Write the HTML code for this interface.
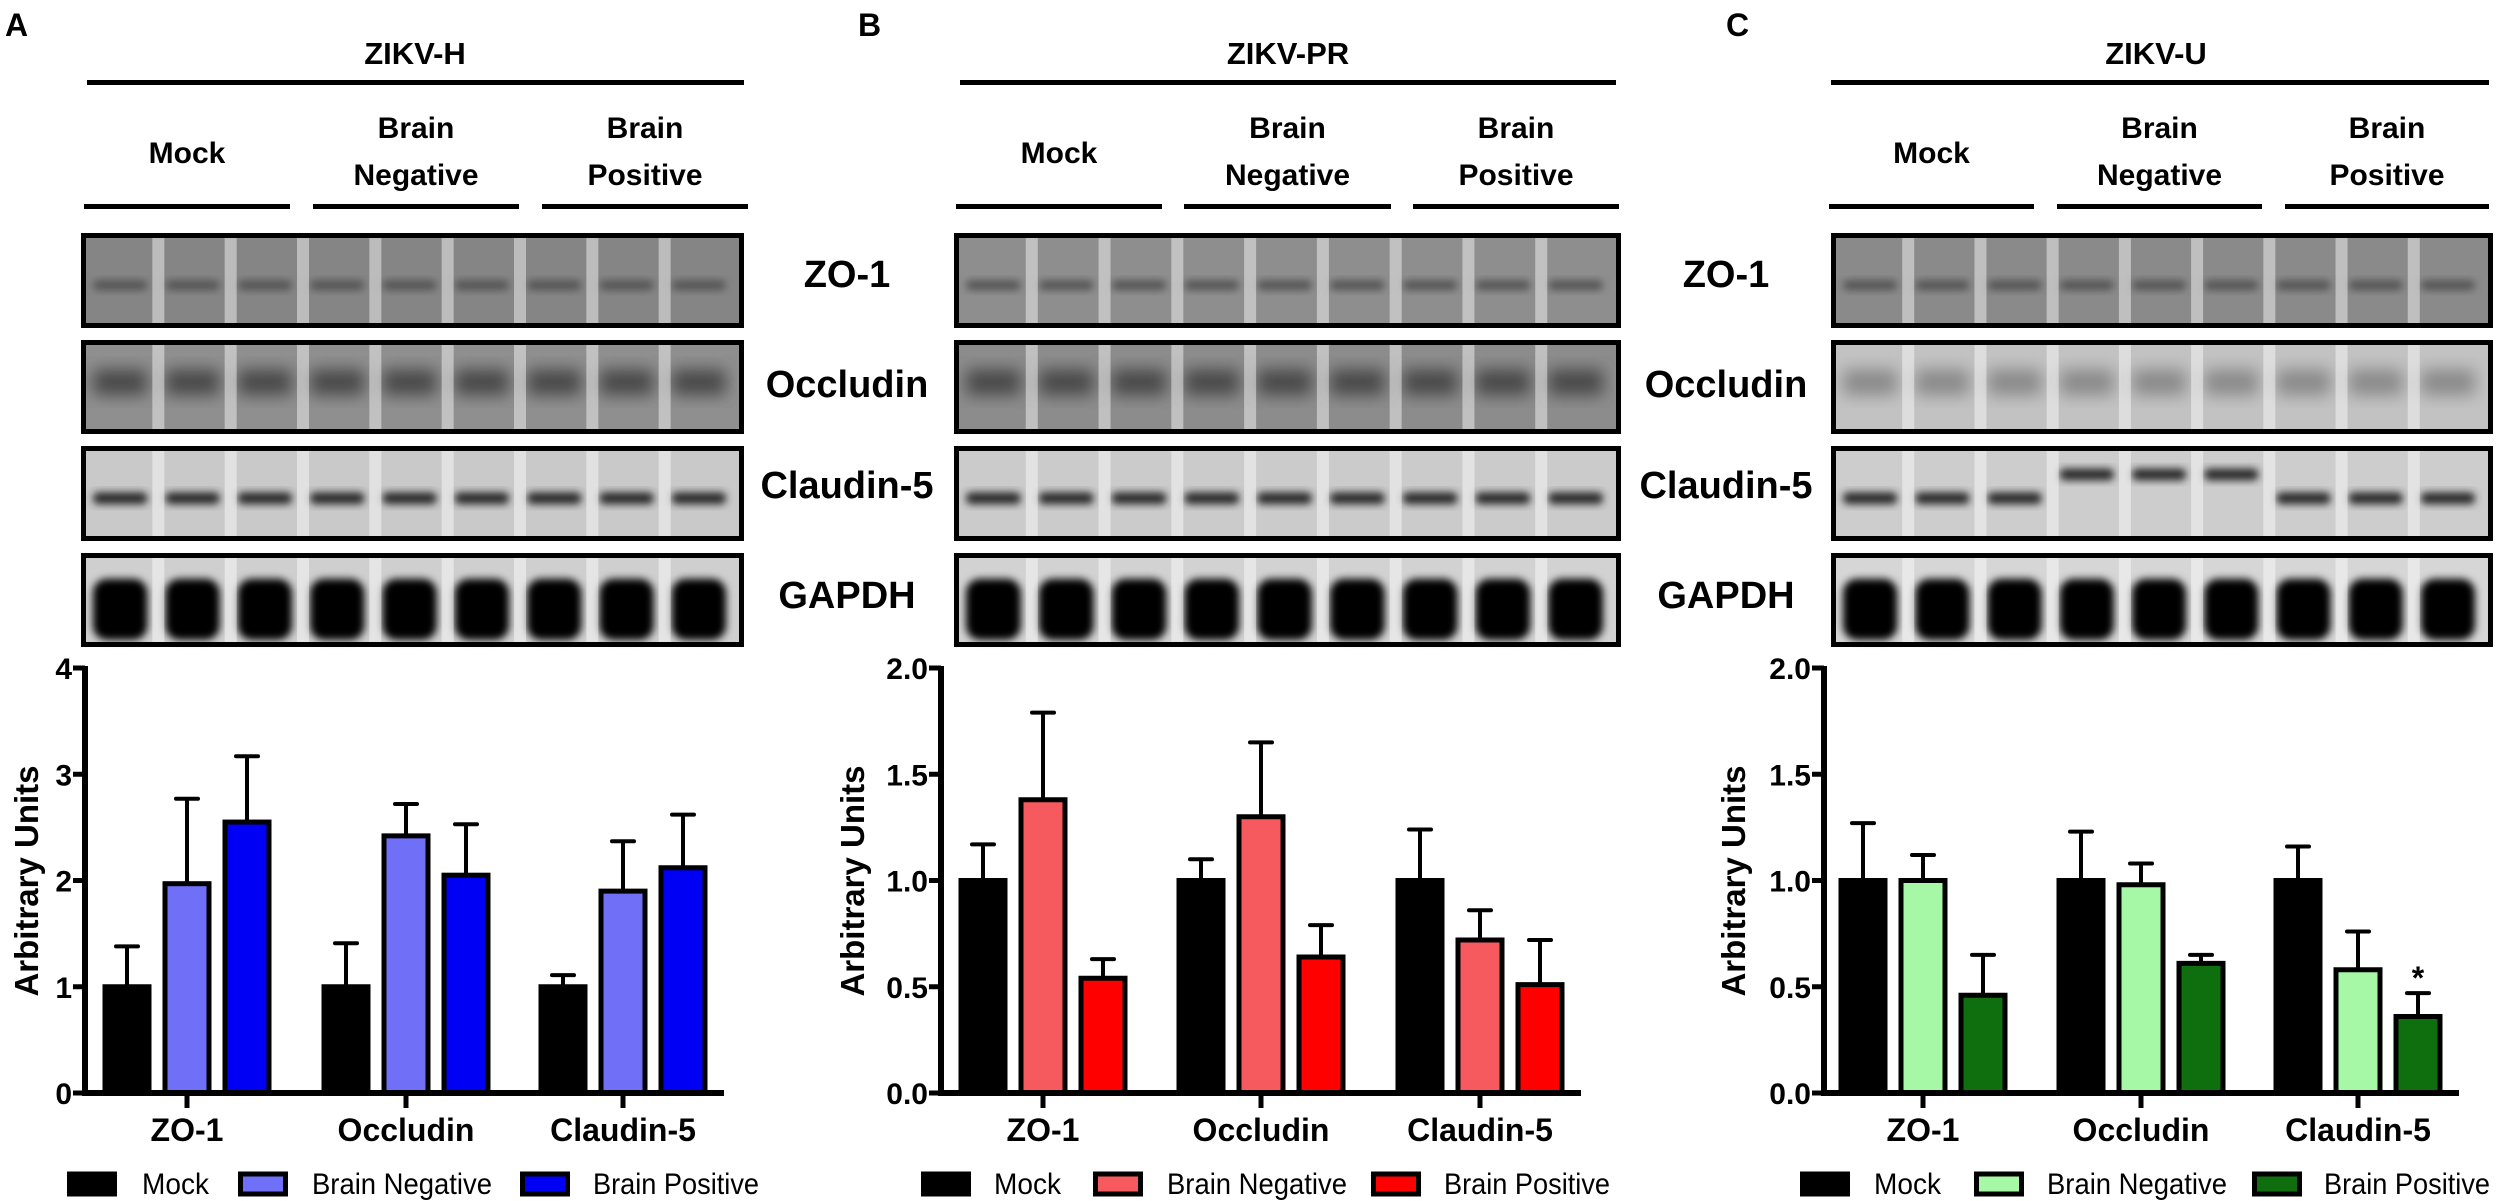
<!DOCTYPE html>
<html><head><meta charset="utf-8"><title>ZIKV tight junction figure</title>
<style>
html,body{margin:0;padding:0;background:#fff;}
svg{display:block;font-family:"Liberation Sans",Arial,sans-serif;}
</style></head>
<body>
<svg id="fig" width="2500" height="1201" viewBox="0 0 2500 1201" xmlns="http://www.w3.org/2000/svg">
<defs>
<filter id="blur4" x="-20%" y="-50%" width="140%" height="200%"><feGaussianBlur stdDeviation="4"/></filter>
<filter id="blur8" x="-20%" y="-50%" width="140%" height="200%"><feGaussianBlur stdDeviation="8"/></filter>
</defs>
</svg>
<script>
// ---------- data ----------
var categories = ["ZO-1", "Occludin", "Claudin-5"];
var seriesNames = ["Mock", "Brain Negative", "Brain Positive"];
var panelTitles = ["ZIKV-H", "ZIKV-PR", "ZIKV-U"];
var panelLetters = ["A", "B", "C"];
var blotRows = ["ZO-1", "Occludin", "Claudin-5", "GAPDH"];
// panel A (ZIKV-H)
var aMock = [1.0, 1.0, 1.0];
var aMockErr = [0.38, 0.41, 0.11];
var aNeg = [1.97, 2.42, 1.90];
var aNegErr = [0.80, 0.30, 0.47];
var aPos = [2.55, 2.05, 2.12];
var aPosErr = [0.62, 0.48, 0.50];
var aTicks = ["0", "1", "2", "3", "4"];
var aTickVals = [0, 1, 2, 3, 4];
// panel B (ZIKV-PR)
var bMock = [1.0, 1.0, 1.0];
var bMockErr = [0.17, 0.10, 0.24];
var bNeg = [1.38, 1.30, 0.72];
var bNegErr = [0.41, 0.35, 0.14];
var bPos = [0.54, 0.64, 0.51];
var bPosErr = [0.09, 0.15, 0.21];
var bTicks = ["0.0", "0.5", "1.0", "1.5", "2.0"];
var bTickVals = [0, 0.5, 1, 1.5, 2];
// panel C (ZIKV-U)
var cMock = [1.0, 1.0, 1.0];
var cMockErr = [0.27, 0.23, 0.16];
var cNeg = [1.0, 0.98, 0.58];
var cNegErr = [0.12, 0.10, 0.18];
var cPos = [0.46, 0.61, 0.36];
var cPosErr = [0.19, 0.04, 0.11];
var cTicks = ["0.0", "0.5", "1.0", "1.5", "2.0"];
var cTickVals = [0, 0.5, 1, 1.5, 2];

// ---------- helpers ----------
var NS = "http://www.w3.org/2000/svg";
var svg = document.getElementById("fig");
function mk(tag, attrs, parent) {
  var e = document.createElementNS(NS, tag);
  for (var k in attrs) e.setAttribute(k, attrs[k]);
  (parent || svg).appendChild(e);
  return e;
}
function txt(s, x, y, size, weight, anchor, parent) {
  var t = mk("text", {x: x, y: y, "font-size": size, "font-weight": weight, "text-anchor": anchor, fill: "#000"}, parent);
  t.textContent = s;
  return t;
}

var legendWidths = [67, 180, 166];

var panels = [
  {left: 0, axisX: 85, right: 724, ticks: [187, 406, 623], max: 4, tl: aTicks, tv: aTickVals,
   vals: [aMock, aNeg, aPos], errs: [aMockErr, aNegErr, aPosErr],
   colors: ["#000000", "#6f6ff8", "#0000f5"],
   letterX: 5, titleX: 415, lineX1: 87, lineX2: 744,
   groups: [[84, 290], [313, 519], [542, 748]], blotX1: 81, blotX2: 744,
   ylabX: 26, rowLabelX: 847,
   leg: [[67, 142], [238, 312], [520, 593]],
   bg: ["#858585", "#8f8f8f", "#c9c9c9", "#cfcfcf"]},
  {left: 830, axisX: 941, right: 1581, ticks: [1043, 1261, 1480], max: 2, tl: bTicks, tv: bTickVals,
   vals: [bMock, bNeg, bPos], errs: [bMockErr, bNegErr, bPosErr],
   colors: ["#000000", "#f65a5f", "#ff0000"],
   letterX: 858, titleX: 1288, lineX1: 960, lineX2: 1616,
   groups: [[956, 1162], [1184, 1391], [1413, 1619]], blotX1: 954, blotX2: 1621,
   ylabX: 852, rowLabelX: 1726,
   leg: [[921, 994], [1093, 1167], [1371, 1444]],
   bg: ["#8e8e8e", "#8c8c8c", "#cbcbcb", "#d2d2d2"]},
  {left: 1670, axisX: 1824, right: 2459, ticks: [1923, 2141, 2358], max: 2, tl: cTicks, tv: cTickVals,
   vals: [cMock, cNeg, cPos], errs: [cMockErr, cNegErr, cPosErr],
   colors: ["#000000", "#a6f8a6", "#0f6f0f"],
   letterX: 1726, titleX: 2156, lineX1: 1831, lineX2: 2489,
   groups: [[1829, 2034], [2057, 2262], [2285, 2489]], blotX1: 1831, blotX2: 2493,
   ylabX: 1733, rowLabelX: null,
   leg: [[1800, 1874], [1974, 2047], [2252, 2324]],
   bg: ["#8a8a8a", "#c2c2c2", "#cdcdcd", "#d6d6d6"]}
];
var blotY = [[233, 328], [340, 434], [446, 541], [553, 647]];
var rowBaselines = [287, 397, 498, 608];
var Y0 = 1093, YTOP = 668;

panels.forEach(function (p, pi) {
  var g = mk("g", {});
  
  

  var L = txt(panelLetters[pi], p.letterX, 36, 32, "bold", "start", g);
  
  
  var T = txt(panelTitles[pi], p.titleX, 64, 31, "bold", "middle", g);
  
  
  var tl = mk("rect", {x: p.lineX1, y: 80, width: p.lineX2 - p.lineX1, height: 5, fill: "#000"}, g);
  
  

  p.groups.forEach(function (gr, gi) {
    var cx = (gr[0] + gr[1]) / 2;
    if (gi === 0) {
      var m = txt("Mock", cx, 163, 30, "bold", "middle", g);
      
      
    } else {
      var b1 = txt("Brain", cx, 138, 30, "bold", "middle", g);
      
      
      var b2 = txt(gi === 1 ? "Negative" : "Positive", cx, 185, 30, "bold", "middle", g);
      
      
    }
    var ln = mk("rect", {x: gr[0], y: 204, width: gr[1] - gr[0], height: 5, fill: "#000"}, g);
    
    
  });

  var bw = p.blotX2 - p.blotX1;
  var laneW = (bw - 12) / 9;
  blotRows.forEach(function (row, ri) {
    var y1 = blotY[ri][0], y2 = blotY[ri][1];
    var bg = mk("g", {}, g);
    
    
    mk("rect", {x: p.blotX1, y: y1, width: bw, height: y2 - y1, fill: p.bg[ri]}, bg);
    var innerX = p.blotX1 + 6;
    for (var l = 0; l < 9; l++) {
      var lx = innerX + l * laneW;
      var bandY, bandH, col, filt;
      if (ri === 0) { bandY = y1 + (y2 - y1) * 0.55; bandH = 10; col = "#555"; filt = "url(#blur4)"; }
      else if (ri === 1) { bandY = y1 + (y2 - y1) * 0.45; bandH = 26; col = pi === 2 ? "#8a8a8a" : "#4a4a4a"; filt = "url(#blur8)"; }
      else if (ri === 2) { bandY = y1 + (y2 - y1) * (pi === 2 ? 0.55 - (l >= 3 && l <= 5 ? 0.25 : 0) : 0.55); bandH = 12; col = "#2a2a2a"; filt = "url(#blur4)"; }
      else { bandY = y1 + (y2 - y1) * 0.6; bandH = (y2 - y1) * 0.65; col = "#000"; filt = "url(#blur4)"; }
      mk("rect", {x: lx + 6, y: bandY - bandH / 2, width: laneW - 18, height: bandH, rx: ri === 3 ? 14 : 5, fill: col, filter: filt}, bg);
      if (l > 0) mk("rect", {x: lx - 7, y: y1 + 3, width: 12, height: y2 - y1 - 6, fill: "#ffffff", opacity: 0.45}, bg);
    }
    mk("rect", {x: p.blotX1 + 2.5, y: y1 + 2.5, width: bw - 5, height: y2 - y1 - 5, fill: "none", stroke: "#000", "stroke-width": 5}, bg);
    if (p.rowLabelX !== null) {
      var rl = txt(row, p.rowLabelX, rowBaselines[ri], 38, "bold", "middle", g);
      
      
    }
  });

  var chart = mk("g", {}, g);
  
  
  function yScale(v) { return Y0 - v / p.max * (Y0 - YTOP); }

  p.tv.forEach(function (v, i) {
    var yy = yScale(v);
    mk("line", {x1: p.axisX - 12, x2: p.axisX, y1: yy, y2: yy, stroke: "#000", "stroke-width": 5}, chart);
    var t = txt(p.tl[i], p.axisX - 13, yy + 11, 30, "bold", "end", chart);
    
    
  });

  var offsets = [-60, 0, 60];
  var barW = 44;
  for (var s = 0; s < 3; s++) {
    for (var c = 0; c < 3; c++) {
      var cx = p.ticks[c] + offsets[s];
      var v = p.vals[s][c], e = p.errs[s][c];
      var top = yScale(v), etop = yScale(v + e);
      var eb = mk("line", {x1: cx, x2: cx, y1: top, y2: etop, stroke: "#000", "stroke-width": 4}, chart);
      
      
      mk("line", {x1: cx - 11, x2: cx + 11, y1: etop, y2: etop, stroke: "#000", "stroke-width": 4, "stroke-linecap": "round"}, chart);
      var r = mk("rect", {x: cx - barW / 2, y: top, width: barW, height: Y0 - top, fill: p.colors[s], stroke: "#000", "stroke-width": 5}, chart);
      
      
    }
  }
  if (pi === 2) {
    var star = txt("*", p.ticks[2] + 60, yScale(cPos[2] + cPosErr[2]) - 4, 32, "bold", "middle", chart);
    
    
  }

  var ya = mk("line", {x1: p.axisX, x2: p.axisX, y1: YTOP - 2, y2: Y0 + 2, stroke: "#000", "stroke-width": 6}, chart);
  
  
  var xa = mk("line", {x1: p.axisX - 3, x2: p.right, y1: Y0, y2: Y0, stroke: "#000", "stroke-width": 6}, chart);
  
  
  p.ticks.forEach(function (tx, c) {
    mk("line", {x1: tx, x2: tx, y1: Y0, y2: Y0 + 15, stroke: "#000", "stroke-width": 5}, chart);
    var t = txt(categories[c], tx, 1141, 32, "bold", "middle", chart);
    
    
  });
  var yl = txt("Arbitrary Units", 0, 0, 33, "bold", "middle", chart);
  yl.setAttribute("transform", "translate(" + (p.ylabX + 12) + ",881) rotate(-90)");
  
  

  var lg = mk("g", {}, g);
  
  
  p.leg.forEach(function (le, s) {
    var sw = mk("rect", {x: le[0] + 2.5, y: 1174, width: 45, height: 20, fill: p.colors[s], stroke: "#000", "stroke-width": 5}, lg);
    
    
    var t = txt(seriesNames[s], le[1], 1194, 30, "normal", "start", lg);
    t.setAttribute("textLength", legendWidths[s]);
    t.setAttribute("lengthAdjust", "spacingAndGlyphs");
    
    
  });
});
</script>
</body></html>
